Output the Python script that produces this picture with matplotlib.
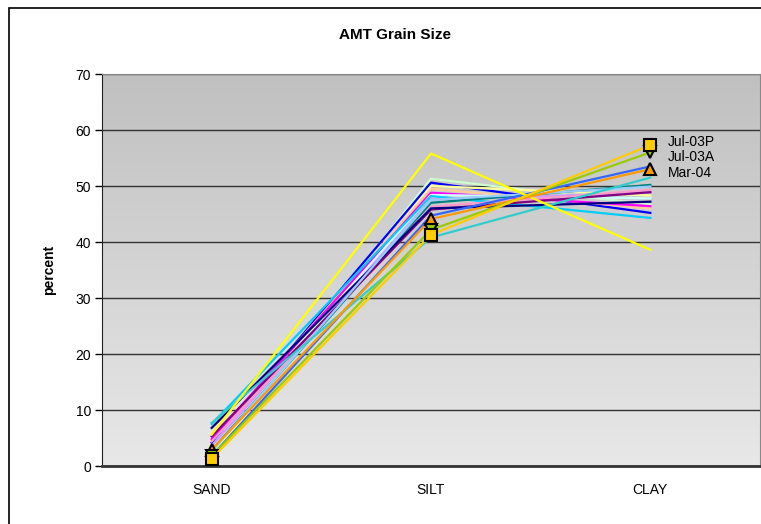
import numpy as np
import matplotlib.pyplot as plt
from matplotlib.patches import Rectangle

plt.rcParams['font.family'] = ['Liberation Sans Narrow', 'Liberation Sans', 'DejaVu Sans']

categories = ['SAND', 'SILT', 'CLAY']

# one entry per sample: (colour, sand, silt, clay)
series_colors = ['#CCFFCC', '#0000FF', '#FFFF99', '#FFCC99', '#FF00FF', '#CCFFFF',
                 '#00CCFF', '#CC99FF', '#008080', '#FF99CC', '#800080', '#000080',
                 '#99CCFF', '#3366FF', '#33CCCC', '#FFFF00']
sand = [2.0, 4.2, 1.7, 4.5, 4.8, 3.5, 7.5, 3.6, 2.8, 4.4, 5.3, 6.8, 2.6, 1.8, 7.7, 5.6]
silt = [51.3, 50.6, 50.0, 49.5, 48.8, 48.4, 48.2, 47.6, 47.0, 46.3, 45.8, 46.0, 47.5, 44.7, 40.8, 55.8]
clay = [46.7, 45.2, 48.3, 46.0, 46.4, 47.8, 44.3, 48.8, 50.2, 49.3, 48.9, 47.2, 49.9, 53.5, 51.5, 38.6]

# labelled samples
marked_names = ['Mar-04', 'Jul-03A', 'Jul-03P']
marked_colors = ['#FF9900', '#99CC00', '#FFCC00']
marked_shapes = ['^', 'v', 's']
marked_sand = [2.9, 1.8, 1.3]
marked_silt = [44.1, 42.2, 41.3]
marked_clay = [53.0, 56.0, 57.3]
label_y = [52.3, 55.1, 57.8]

fig = plt.figure(figsize=(7.61, 5.24), dpi=100)
fig.patches.append(Rectangle((9 / 761, -0.1), 1.2, 1.1 - 8 / 524, transform=fig.transFigure,
                             fill=False, edgecolor='black', linewidth=1.2))

ax = fig.add_axes([102 / 761, 58 / 524, 658 / 761, 392 / 524])
x = np.arange(len(categories))

# grey gradient behind the plot
grad = np.linspace(0, 1, 256).reshape(-1, 1)
ax.imshow(grad, extent=[-0.5, 2.5, 0, 70], aspect='auto', origin='upper',
          cmap=plt.matplotlib.colors.LinearSegmentedColormap.from_list('bg', ['#C0C0C0', '#E8E8E8']),
          zorder=0)

for c, a, b, d in zip(series_colors, sand, silt, clay):
    ax.plot(x, [a, b, d], color=c, linewidth=1.6, zorder=3)

for name, c, m, a, b, d, ly in zip(marked_names, marked_colors, marked_shapes,
                                   marked_sand, marked_silt, marked_clay, label_y):
    ax.plot(x, [a, b, d], color=c, linewidth=1.6, marker=m, markersize=8,
            markerfacecolor=c, markeredgecolor='black', markeredgewidth=1.5, zorder=4)
    ax.text(x[-1] + 0.08, ly, name, fontsize=10, va='center', ha='left', zorder=5)

ax.set_xlim(-0.5, 2.5)
ax.set_ylim(0, 70)
ax.set_yticks(np.arange(0, 71, 10))
ax.set_xticks(x)
ax.set_xticklabels(categories)
ax.tick_params(axis='y', length=5, width=1, direction='out', labelsize=10, pad=3)
ax.tick_params(axis='x', length=0, labelsize=10, pad=12)
ax.grid(axis='y', color='#333333', linewidth=1, zorder=1)
ax.set_axisbelow(True)
ax.spines['left'].set_color('#222222')
ax.spines['bottom'].set_color('#333333')
ax.spines['bottom'].set_linewidth(2)
ax.spines['top'].set_color('#888888')
ax.spines['right'].set_color('#888888')
ax.set_ylabel('percent', fontsize=10, fontweight='bold', labelpad=14)

fig.text(395 / 761, 1 - 35 / 524, 'AMT Grain Size', fontsize=11, fontweight='bold',
         ha='center', va='center')

fig.savefig('out.png', dpi=100)
